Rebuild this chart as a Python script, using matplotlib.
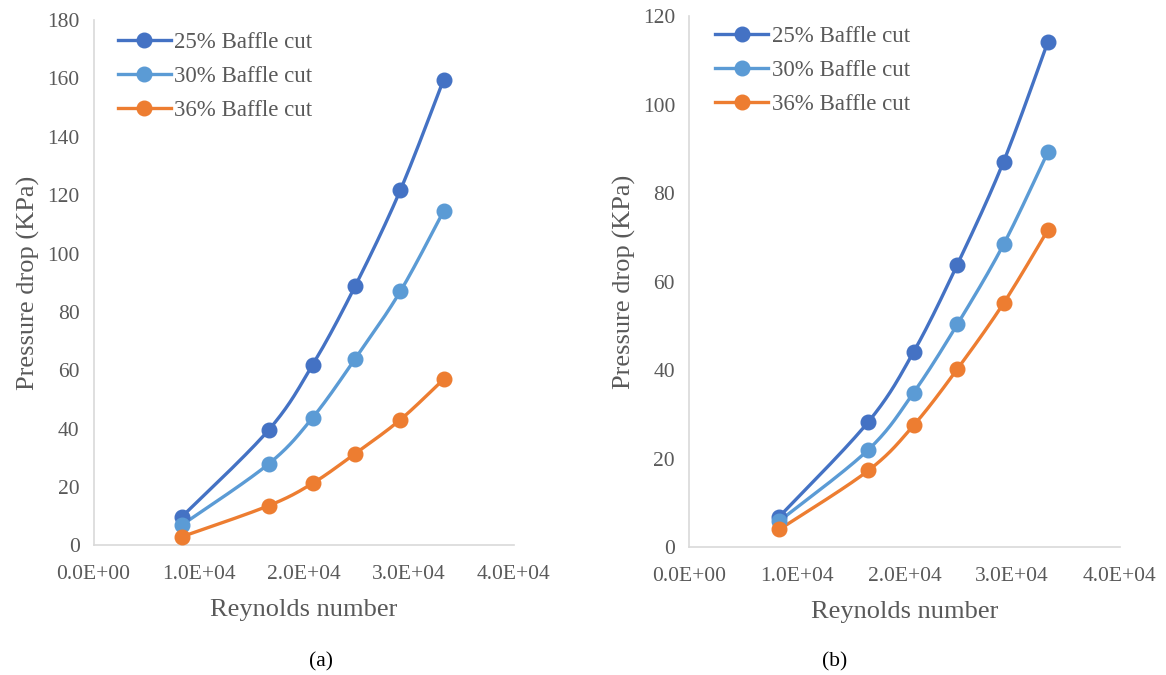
import numpy as np
import matplotlib
matplotlib.use('Agg')
import matplotlib.pyplot as plt

plt.rcParams['font.family'] = ['Liberation Serif', 'DejaVu Serif']

# Reynolds numbers (same for both panels)
reynolds = [8400, 16650, 20850, 24900, 29200, 33300]

labels = ['25% Baffle cut', '30% Baffle cut', '36% Baffle cut']
colors = ['#4472C4', '#5B9BD5', '#ED7D31']

# panel (a)
dp_a_25 = [9.8, 39.5, 61.9, 88.9, 121.8, 159.5]
dp_a_30 = [7.0, 27.9, 43.8, 64.0, 87.1, 114.5]
dp_a_36 = [3.0, 13.6, 21.3, 31.5, 43.1, 56.9]

# panel (b)
dp_b_25 = [7.0, 28.4, 44.2, 63.9, 87.2, 114.2]
dp_b_30 = [6.0, 22.1, 35.0, 50.4, 68.5, 89.3]
dp_b_36 = [4.1, 17.4, 27.6, 40.3, 55.2, 71.7]

x_ticks = [0, 10000, 20000, 30000, 40000]
x_ticklabels = ['0.0E+00', '1.0E+04', '2.0E+04', '3.0E+04', '4.0E+04']

TXT = '#595959'
GRID = '#d9d9d9'


def smooth(x, y, n=30):
    # Excel-style smoothed line (Catmull-Rom / Bezier through the points)
    x = np.asarray(x, float)
    y = np.asarray(y, float)
    P = np.column_stack([x, y])
    P = np.vstack([P[0], P, P[-1]])
    out = []
    t = np.linspace(0, 1, n)
    for i in range(1, len(P) - 2):
        p0, p1, p2, p3 = P[i - 1], P[i], P[i + 1], P[i + 2]
        c1 = p1 + (p2 - p0) / 6.0
        c2 = p2 - (p3 - p1) / 6.0
        seg = ((1 - t) ** 3)[:, None] * p1 + (3 * (1 - t) ** 2 * t)[:, None] * c1 \
            + (3 * (1 - t) * t ** 2)[:, None] * c2 + (t ** 3)[:, None] * p2
        out.append(seg if i == 1 else seg[1:])
    s = np.vstack(out)
    return s[:, 0], s[:, 1]


def draw(ax, series, ymax, ystep, leg_anchor):
    for vals, lab, col in zip(series, labels, colors):
        sx, sy = smooth(reynolds, vals)
        ax.plot(sx, sy, color=col, lw=2.4, solid_capstyle='round', zorder=2)
        ax.plot(reynolds, vals, 'o', color=col, ms=10.5, zorder=3)
        ax.plot([], [], '-o', color=col, lw=2.4, ms=10.5, label=lab)
    ax.set_xlim(0, 40000)
    ax.set_ylim(0, ymax)
    ax.set_xticks(x_ticks)
    ax.set_xticklabels(x_ticklabels)
    ax.set_yticks(np.arange(0, ymax + 1, ystep))
    ax.tick_params(length=0, labelsize=15.5, colors=TXT)
    ax.tick_params(axis='x', pad=14)
    ax.tick_params(axis='y', pad=10)
    for side in ['top', 'right']:
        ax.spines[side].set_visible(False)
    for side in ['left', 'bottom']:
        ax.spines[side].set_color(GRID)
        ax.spines[side].set_linewidth(1.2)
    ax.set_xlabel('Reynolds number', fontsize=19, color=TXT, labelpad=11)
    ax.set_ylabel('Pressure drop (KPa)', fontsize=19, color=TXT, labelpad=5)
    ax.legend(loc='upper left', bbox_to_anchor=leg_anchor, frameon=False,
              fontsize=16.5, labelcolor=TXT, handlelength=2.3,
              handletextpad=0.15, labelspacing=0.58, borderaxespad=0)


fig = plt.figure(figsize=(11.66, 6.75), dpi=100)
ax1 = fig.add_axes([0.0802, 0.1919, 0.3606, 0.7785])
ax2 = fig.add_axes([0.5909, 0.1889, 0.3696, 0.7867])

draw(ax1, [dp_a_25, dp_a_30, dp_a_36], 180, 20, (0.036, 0.995))
draw(ax2, [dp_b_25, dp_b_30, dp_b_36], 120, 20, (0.04, 1.0))

fig.text(0.275, 0.012, '(a)', fontsize=15.5, color='black', ha='center')
fig.text(0.716, 0.012, '(b)', fontsize=15.5, color='black', ha='center')

fig.savefig('out.png', dpi=100, facecolor='white')
